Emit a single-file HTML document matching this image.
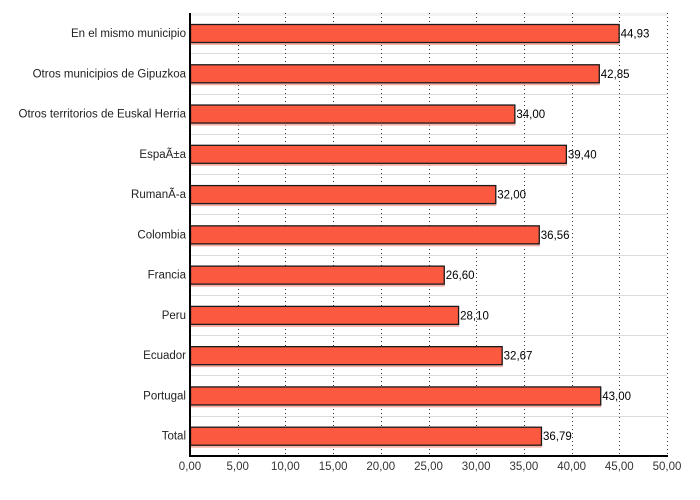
<!DOCTYPE html>
<html><head><style>body{margin:0;background:#fff}svg{display:block}</style></head><body>
<svg width="700" height="500" xmlns="http://www.w3.org/2000/svg" font-family="Liberation Sans, sans-serif" font-size="11.5">
<rect x="190" y="13" width="477" height="3" fill="#f2f2f2"/>
<script>
(function(){
var svg=document.querySelector('svg');
var ns='http://www.w3.org/2000/svg';
function el(t,a,txt){var e=document.createElementNS(ns,t);for(var k in a)e.setAttribute(k,a[k]);if(txt!==undefined)e.textContent=txt;svg.appendChild(e);return e;}
var labels=["En el mismo municipio","Otros municipios de Gipuzkoa","Otros territorios de Euskal Herria","EspaÃ±a","RumanÃ-a","Colombia","Francia","Peru","Ecuador","Portugal","Total"];
var vals=[44.93,42.85,34.00,39.40,32.00,36.56,26.60,28.10,32.67,43.00,36.79];
var x0=190,sc=9.54,T=13,pitch=40.27,B=456;
for(var i=1;i<11;i++){var y=Math.round(T+i*pitch)+0.5;el('line',{x1:x0,x2:667,y1:y,y2:y,stroke:'#dcdcdc','stroke-width':1});}
for(var k=1;k<=10;k++){var x=Math.round(x0+k*5*sc)+0.5;el('line',{x1:x,x2:x,y1:T,y2:B,stroke:'#333','stroke-width':1,'stroke-dasharray':'1,3'});}
for(var i=0;i<11;i++){
 var yt=T+i*pitch+11,w=vals[i]*sc;
 el('rect',{x:x0+1,y:yt+2,width:w,height:19,fill:'#f4b0a6'});
 el('rect',{x:x0+0.5,y:yt+0.5,width:w,height:18,fill:'#fc5a40',stroke:'#1a1a1a','stroke-width':1.3});
 el('text',{x:x0+w+2,y:yt+13.5,fill:'#000'},vals[i].toFixed(2).replace('.',','));
 el('text',{x:186,y:yt+13,'text-anchor':'end',fill:'#222'},labels[i]);
}
el('line',{x1:x0,x2:x0,y1:T,y2:B+1,stroke:'#000','stroke-width':2});
el('line',{x1:x0-1,x2:668,y1:B,y2:B,stroke:'#000','stroke-width':2});
for(var k=0;k<=10;k++){var x=x0+k*5*sc;el('text',{x:x,y:470,'text-anchor':'middle',fill:'#333'},(k*5).toFixed(2).replace('.',','));}
})();
</script>
</svg>
</body></html>
